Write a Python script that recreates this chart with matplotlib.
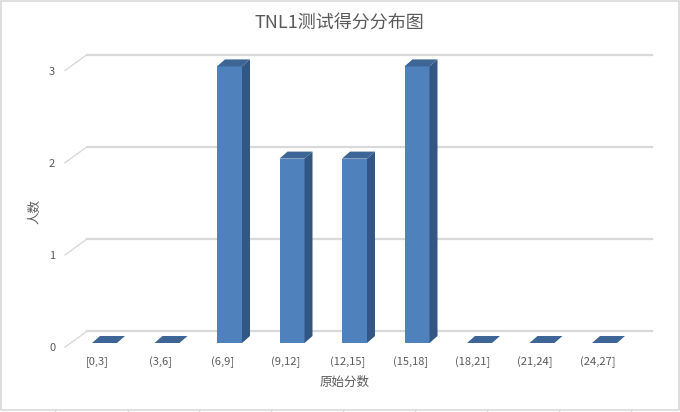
import numpy as np
import matplotlib
matplotlib.use("Agg")
import matplotlib.pyplot as plt
from matplotlib.patches import Polygon, Rectangle

plt.rcParams['font.family'] = ['Noto Sans CJK SC', 'DejaVu Sans']

# Data
categories = ["[0,3]", "(3,6]", "(6,9]", "(9,12]", "(12,15]", "(15,18]", "(18,21]", "(21,24]", "(24,27]"]
counts = [0, 0, 3, 2, 2, 3, 0, 0, 0]
y_ticks = [0, 1, 2, 3]

title = "TNL1测试得分分布图"
x_label = "原始分数"
y_label = "人数"

# Style
front_color = "#4f81bd"
side_color = "#325785"
top_color = "#3d6696"
grid_color = "#d9d9d9"
text_color = "#595959"
bar_w = 0.4
depth_dx, depth_dy = 0.128, 0.076      # bar depth (oblique)
wall_dx, wall_dy = 0.352, 0.173        # front edge -> back wall
edge_dy = -0.045                       # front floor edge vs bar front

W, H = 680, 412
fig = plt.figure(figsize=(W / 100, H / 100), dpi=100)

# axes placed so category i -> 104.5 + 62.5*i px, value v -> 343 - 92.2*v px
xlim = (-0.7, 8.9)
ylim = (-0.1, 3.3)
left_px = 104.5 + xlim[0] * 62.5
right_px = 104.5 + xlim[1] * 62.5
bot_px = 343 - ylim[0] * 92.2
top_px = 343 - ylim[1] * 92.2
ax = fig.add_axes([left_px / W, 1 - bot_px / H, (right_px - left_px) / W, (bot_px - top_px) / H])
ax.set_xlim(*xlim)
ax.set_ylim(*ylim)
for s in ax.spines.values():
    s.set_visible(False)

x = np.arange(len(categories))

# gridlines on back wall with diagonal to the front edge
front_x = -0.632
for v in y_ticks:
    y0 = v + edge_dy
    ax.plot([front_x, front_x + wall_dx], [y0, y0 + wall_dy], color=grid_color, lw=1.0, zorder=1)
    ax.plot([front_x + wall_dx, 8.76], [y0 + wall_dy, y0 + wall_dy], color=grid_color, lw=1.6, zorder=1)

# 3D columns
for xi, h in zip(x, counts):
    l, r = xi - bar_w / 2, xi + bar_w / 2
    if h > 0:
        ax.add_patch(Rectangle((l, 0), bar_w, h, facecolor=front_color, edgecolor="none", zorder=3))
        ax.add_patch(Polygon([(r, 0), (r, h), (r + depth_dx, h + depth_dy), (r + depth_dx, depth_dy)],
                             closed=True, facecolor=side_color, edgecolor="none", zorder=3))
    ax.add_patch(Polygon([(l, h), (r, h), (r + depth_dx, h + depth_dy), (l + depth_dx, h + depth_dy)],
                         closed=True, facecolor=top_color, edgecolor="none", zorder=3))

ax.set_xticks(x - 0.11, categories)
ax.set_yticks(np.array(y_ticks) + edge_dy, [str(v) for v in y_ticks])
ax.tick_params(axis="both", length=0, colors=text_color, labelsize=8)
ax.tick_params(axis="x", pad=3)
ax.tick_params(axis="y", pad=4)

ax.text(0.5 * (0 + 8), 0, "", transform=ax.transData)
fig.text(345 / W, 1 - 382 / H, x_label, ha="center", va="center", color=text_color, fontsize=9)
fig.text(35 / W, 1 - 212 / H, y_label, ha="center", va="center", color=text_color, fontsize=9, rotation=90)
fig.text(339 / W, 1 - 23 / H, title, ha="center", va="center", color=text_color, fontsize=13)

# chart border and sheet cell lines underneath
fig.patches.append(Rectangle((1 / W, 1 - 410 / H), 678 / W, 409 / H, transform=fig.transFigure,
                             fill=False, edgecolor=grid_color, lw=1.2))
for cx in [55, 128, 199, 271, 343, 415, 487, 559, 631]:
    fig.lines.append(plt.Line2D([cx / W, cx / W], [0, 2 / H], transform=fig.transFigure, color=grid_color, lw=1))

fig.savefig("out.png", dpi=100, facecolor="white")
